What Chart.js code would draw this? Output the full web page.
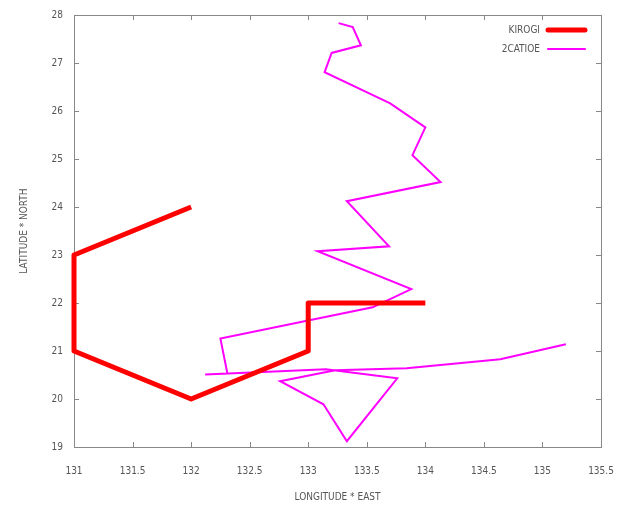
<!DOCTYPE html>
<html>
<head>
<meta charset="utf-8">
<script src="https://cdn.jsdelivr.net/npm/chart.js@4/dist/chart.umd.min.js"></script>
<style>
  html, body { margin: 0; padding: 0; background: #fff; }
  #wrap { width: 617px; height: 505px; }
</style>
</head>
<body>
<div id="wrap"><canvas id="track"></canvas></div>
<script>
// KIROGI track (longitude, latitude)
const kirogiLon = [132, 131, 131, 132, 133, 133, 134];
const kirogiLat = [24, 23, 21, 20, 21, 22, 22];

// second track
const otherLon = [133.26, 133.38, 133.45, 133.20, 133.14, 133.70, 134.00, 133.89, 134.13, 133.33,
                  133.69, 133.08, 133.88, 133.55, 132.25, 132.31, 132.12, 133.15, 133.76, 133.33,
                  133.13, 132.76, 133.23, 133.84, 134.64, 135.20];
const otherLat = [27.83, 27.75, 27.37, 27.21, 26.81, 26.16, 25.66, 25.08, 24.52, 24.12,
                  23.18, 23.08, 22.29, 21.91, 21.26, 20.53, 20.51, 20.62, 20.43, 19.12,
                  19.89, 20.37, 20.60, 20.64, 20.83, 21.14];

const seriesNames = ['KIROGI', '2CATIOE'];
const xTitle = 'LONGITUDE * EAST';
const yTitle = 'LATITUDE * NORTH';

const toPoints = (lon, lat) => lon.map((x, i) => ({ x: x, y: lat[i] }));

const fontFamily = "'DejaVu Sans Condensed', 'Liberation Sans Narrow', 'Liberation Sans', sans-serif";
const labelFont = { family: fontFamily, size: 10 };
const textColor = '#555';

// frame with inner ticks (under the tracks) and the legend (on top)
const framePlugin = {
    id: 'frame',
    beforeDatasetsDraw(chart) {
        const ctx = chart.ctx;
        const area = chart.chartArea;
        const xs = chart.scales.x;
        const ys = chart.scales.y;
        ctx.save();
        ctx.strokeStyle = '#888';
        ctx.lineWidth = 1;
        ctx.strokeRect(area.left + 0.5, area.top + 0.5, area.right - area.left, area.bottom - area.top);
        ctx.beginPath();
        xs.ticks.forEach(t => {
            const px = Math.round(xs.getPixelForValue(t.value)) + 0.5;
            ctx.moveTo(px, area.bottom); ctx.lineTo(px, area.bottom - 5);
            ctx.moveTo(px, area.top); ctx.lineTo(px, area.top + 5);
        });
        ys.ticks.forEach(t => {
            const py = Math.round(ys.getPixelForValue(t.value)) + 0.5;
            ctx.moveTo(area.left, py); ctx.lineTo(area.left + 5, py);
            ctx.moveTo(area.right, py); ctx.lineTo(area.right - 5, py);
        });
        ctx.stroke();
        ctx.restore();
    },
    afterDraw(chart) {
        const ctx = chart.ctx;
        ctx.save();
        ctx.font = '10px ' + fontFamily;
        ctx.fillStyle = textColor;
        ctx.textAlign = 'right';
        ctx.textBaseline = 'middle';
        chart.data.datasets.forEach((ds, i) => {
            const y = 30 + i * 19;
            ctx.fillText(ds.label, 540, y);
            ctx.strokeStyle = ds.borderColor;
            ctx.lineWidth = i === 0 ? 5 : 2;
            ctx.lineCap = 'round';
            ctx.beginPath();
            ctx.moveTo(548, y);
            ctx.lineTo(585, y);
            ctx.stroke();
        });
        ctx.restore();
    }
};

new Chart(document.getElementById('track'), {
    type: 'scatter',
    data: {
        datasets: [{
            label: seriesNames[0],
            data: toPoints(kirogiLon, kirogiLat),
            showLine: true,
            borderColor: '#ff0000',
            borderWidth: 5,
            borderJoinStyle: 'round',
            pointRadius: 0,
            clip: 4,
        }, {
            label: seriesNames[1],
            data: toPoints(otherLon, otherLat),
            showLine: true,
            borderColor: '#ff00ff',
            borderWidth: 2,
            pointRadius: 0,
            clip: 4,
        }]
    },
    options: {
        responsive: true,
        maintainAspectRatio: false,
        animation: false,
        layout: { padding: { top: 15, right: 16 } },
        plugins: {
            legend: { display: false },
            tooltip: { enabled: false },
        },
        scales: {
            x: {
                type: 'linear',
                min: 131,
                max: 135.5,
                ticks: {
                    stepSize: 0.5, color: textColor, font: labelFont, padding: 10, maxRotation: 0,
                    callback: (v) => String(v)
                },
                grid: { display: false },
                border: { display: false },
                title: { display: true, text: xTitle, color: textColor, font: labelFont, padding: { top: 0, bottom: 2 } },
                afterFit: (scale) => {
                    scale.height = 58;
                    scale.paddingLeft = 0;
                    scale.paddingRight = 0;
                },
            },
            y: {
                type: 'linear',
                min: 19,
                max: 28,
                ticks: { stepSize: 1, color: textColor, font: labelFont, padding: 3 },
                grid: { display: false },
                border: { display: false },
                title: { display: true, text: yTitle, color: textColor, font: labelFont, padding: { top: 18, bottom: 0 } },
                afterFit: (scale) => {
                    scale.width = 74;
                    scale.paddingTop = 0;
                    scale.paddingBottom = 0;
                },
            }
        }
    },
    plugins: [framePlugin]
});
</script>
</body>
</html>
